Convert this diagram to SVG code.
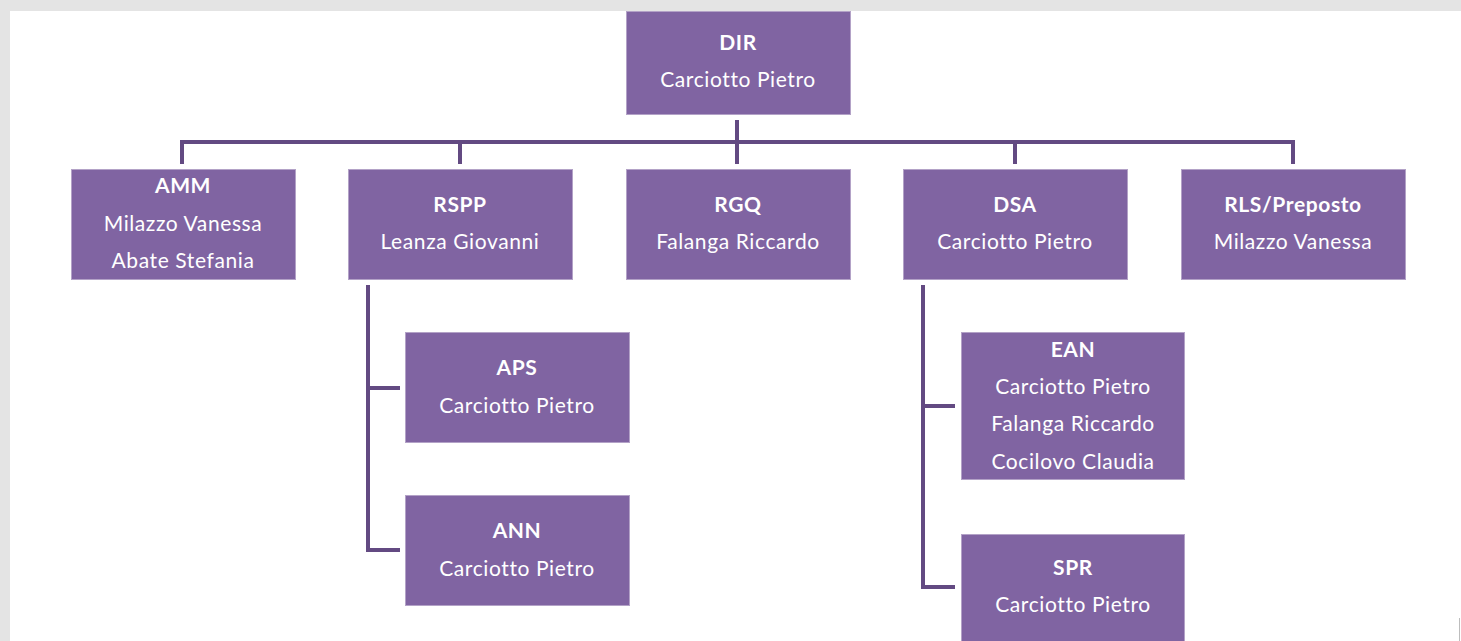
<svg xmlns="http://www.w3.org/2000/svg" width="1461" height="641" viewBox="0 0 1461 641">
<style>
.box{fill:#8064a2;stroke:#b3a2c7;stroke-width:1}
.t{font-family:Lato,"Open Sans","Liberation Sans",sans-serif;font-size:21px;letter-spacing:0.6px;fill:#ffffff;text-anchor:middle}
.b{font-weight:bold}
.c{fill:none;stroke:#634a82;stroke-width:4}
</style>
<rect x="0" y="0" width="1461" height="641" fill="#e4e4e4"/>
<rect x="10" y="11" width="1451" height="630" fill="#ffffff"/>
<line x1="1459.5" y1="618" x2="1459.5" y2="641" stroke="#bdbdbd" stroke-width="1"/>
<g id="connectors">
<line class="c" x1="737" y1="120" x2="737" y2="164"/>
<polyline class="c" points="182,164 182,142 1293,142 1293,164"/>
<line class="c" x1="460" y1="142" x2="460" y2="164"/>
<line class="c" x1="1015" y1="142" x2="1015" y2="164"/>
<polyline class="c" points="368,285 368,550 400,550"/>
<line class="c" x1="368" y1="388" x2="400" y2="388"/>
<polyline class="c" points="923,285 923,587 955,587"/>
<line class="c" x1="923" y1="406" x2="955" y2="406"/>
</g>
<g id="DIR"><rect class="box" x="626.5" y="11.5" width="224" height="103"/>
<text class="t b" x="738" y="50">DIR</text><text class="t" x="738" y="87">Carciotto Pietro</text></g>
<g id="AMM"><rect class="box" x="71.5" y="169.5" width="224" height="110"/>
<text class="t b" x="183" y="193">AMM</text><text class="t" x="183" y="231">Milazzo Vanessa</text><text class="t" x="183" y="268">Abate Stefania</text></g>
<g id="RSPP"><rect class="box" x="348.5" y="169.5" width="224" height="110"/>
<text class="t b" x="460" y="212">RSPP</text><text class="t" x="460" y="249">Leanza Giovanni</text></g>
<g id="RGQ"><rect class="box" x="626.5" y="169.5" width="224" height="110"/>
<text class="t b" x="738" y="212">RGQ</text><text class="t" x="738" y="249">Falanga Riccardo</text></g>
<g id="DSA"><rect class="box" x="903.5" y="169.5" width="224" height="110"/>
<text class="t b" x="1015" y="212">DSA</text><text class="t" x="1015" y="249">Carciotto Pietro</text></g>
<g id="RLS"><rect class="box" x="1181.5" y="169.5" width="224" height="110"/>
<text class="t b" x="1293" y="212">RLS/Preposto</text><text class="t" x="1293" y="249">Milazzo Vanessa</text></g>
<g id="APS"><rect class="box" x="405.5" y="332.5" width="224" height="110"/>
<text class="t b" x="517" y="375">APS</text><text class="t" x="517" y="413">Carciotto Pietro</text></g>
<g id="ANN"><rect class="box" x="405.5" y="495.5" width="224" height="110"/>
<text class="t b" x="517" y="538">ANN</text><text class="t" x="517" y="576">Carciotto Pietro</text></g>
<g id="EAN"><rect class="box" x="961.5" y="332.5" width="223" height="147"/>
<text class="t b" x="1073" y="357">EAN</text><text class="t" x="1073" y="394">Carciotto Pietro</text><text class="t" x="1073" y="431">Falanga Riccardo</text><text class="t" x="1073" y="469">Cocilovo Claudia</text></g>
<g id="SPR"><rect class="box" x="961.5" y="534.5" width="223" height="110"/>
<text class="t b" x="1073" y="575">SPR</text><text class="t" x="1073" y="612">Carciotto Pietro</text></g>
</svg>
